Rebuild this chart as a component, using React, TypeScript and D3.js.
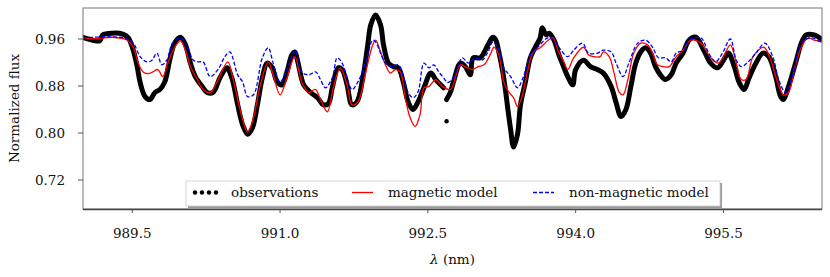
import React, { useEffect, useRef } from 'react';
import * as d3 from 'd3';

const width = 830;
const height = 277;
const margin = { top: 8, right: 8, bottom: 68, left: 83 };
const fontFamily = "'DejaVu Serif', serif";
const fontSize = 13.5;

const obsWave = [
  989.00, 989.10, 989.17, 989.20, 989.30, 989.41, 989.46, 989.51, 989.55, 989.58,
  989.63, 989.68, 989.73, 989.78, 989.83, 989.88, 989.93, 989.99, 990.04, 990.09,
  990.14, 990.21, 990.26, 990.32, 990.39, 990.46, 990.51, 990.57, 990.62, 990.67,
  990.72, 990.77, 990.82, 990.87, 990.92, 990.97, 991.02, 991.07, 991.12, 991.15,
  991.18, 991.24, 991.31, 991.38, 991.44, 991.49, 991.53, 991.59, 991.63, 991.68,
  991.73, 991.78, 991.84, 991.89, 991.92, 991.97, 992.02, 992.05, 992.10, 992.15,
  992.20, 992.25, 992.30, 992.35, 992.40, 992.46, 992.53, 992.58, 992.63, 992.66,
  992.69, 992.73, 992.76, 992.83, 992.88, 992.93, 992.96, 993.03, 993.11, 993.16,
  993.19, 993.22, 993.26, 993.29, 993.31, 993.34, 993.37, 993.41, 993.44, 993.49,
  993.54, 993.59, 993.64, 993.66, 993.70, 993.73, 993.78, 993.83, 993.87, 993.92,
  993.97, 994.00, 994.08, 994.15, 994.22, 994.28, 994.36, 994.41, 994.46, 994.51,
  994.56, 994.61, 994.66, 994.71, 994.76, 994.81, 994.86, 994.91, 994.97, 995.02,
  995.09, 995.15, 995.22, 995.30, 995.37, 995.44, 995.50, 995.55, 995.61, 995.66,
  995.71, 995.76, 995.83, 995.90, 995.96, 996.03, 996.08, 996.11, 996.16, 996.24,
  996.29, 996.34, 996.42, 996.51,
];
const obsFlux = [
  0.963, 0.958, 0.957, 0.967, 0.970, 0.968, 0.962, 0.941, 0.913, 0.886,
  0.862, 0.857, 0.869, 0.874, 0.887, 0.924, 0.953, 0.963, 0.950, 0.919,
  0.896, 0.879, 0.869, 0.869, 0.894, 0.911, 0.894, 0.848, 0.814, 0.798,
  0.809, 0.848, 0.894, 0.919, 0.911, 0.887, 0.882, 0.904, 0.933, 0.938,
  0.921, 0.882, 0.869, 0.860, 0.848, 0.850, 0.877, 0.911, 0.908, 0.882,
  0.848, 0.853, 0.894, 0.950, 0.984, 1.001, 0.984, 0.950, 0.919, 0.913,
  0.911, 0.887, 0.853, 0.840, 0.853, 0.877, 0.902, 0.891, 0.882, 0.877,
  0.857, 0.870, 0.887, 0.919, 0.913, 0.899, 0.928, 0.928, 0.950, 0.963,
  0.958, 0.938, 0.904, 0.870, 0.843, 0.806, 0.776, 0.798, 0.848, 0.887,
  0.928, 0.946, 0.962, 0.979, 0.967, 0.970, 0.958, 0.933, 0.916, 0.896,
  0.882, 0.908, 0.924, 0.913, 0.908, 0.902, 0.879, 0.852, 0.828, 0.840,
  0.879, 0.919, 0.938, 0.945, 0.936, 0.913, 0.899, 0.891, 0.899, 0.919,
  0.936, 0.958, 0.963, 0.941, 0.919, 0.911, 0.924, 0.936, 0.913, 0.886,
  0.874, 0.894, 0.919, 0.936, 0.930, 0.896, 0.862, 0.857, 0.879, 0.924,
  0.953, 0.967, 0.967, 0.958,
];
const obsGapAt = 992.675;
const strayWave = [992.69];
const strayFlux = [0.820];

// magnetic model (red)
const magWave = [
  989.00, 989.10, 989.30, 989.45, 989.51, 989.56, 989.61, 989.66, 989.71, 989.76,
  989.81, 989.86, 989.93, 989.99, 990.04, 990.09, 990.16, 990.22, 990.29, 990.36,
  990.47, 990.52, 990.60, 990.67, 990.73, 990.80, 990.88, 990.93, 991.00, 991.07,
  991.15, 991.22, 991.29, 991.36, 991.41, 991.48, 991.54, 991.61, 991.68, 991.73,
  991.79, 991.87, 991.94, 991.97, 992.02, 992.07, 992.12, 992.17, 992.22, 992.27,
  992.32, 992.37, 992.42, 992.46, 992.51, 992.58, 992.65, 992.73, 992.83, 992.90,
  992.95, 993.01, 993.07, 993.14, 993.17, 993.22, 993.27, 993.32, 993.37, 993.41,
  993.46, 993.51, 993.57, 993.64, 993.72, 993.77, 993.82, 993.88, 993.92, 993.98,
  994.08, 994.13, 994.18, 994.25, 994.28, 994.34, 994.39, 994.44, 994.48, 994.53,
  994.59, 994.66, 994.73, 994.78, 994.83, 994.89, 994.95, 995.02, 995.09, 995.17,
  995.27, 995.37, 995.45, 995.50, 995.57, 995.63, 995.68, 995.73, 995.80, 995.91,
  995.98, 996.05, 996.11, 996.16, 996.22, 996.29, 996.36, 996.42, 996.51,
];
const magFlux = [
  0.962, 0.960, 0.963, 0.958, 0.946, 0.919, 0.904, 0.901, 0.904, 0.908,
  0.896, 0.919, 0.946, 0.957, 0.941, 0.913, 0.891, 0.874, 0.869, 0.887,
  0.921, 0.894, 0.836, 0.801, 0.826, 0.882, 0.921, 0.899, 0.865, 0.894,
  0.930, 0.887, 0.869, 0.874, 0.857, 0.836, 0.877, 0.911, 0.882, 0.848,
  0.853, 0.904, 0.950, 0.958, 0.938, 0.916, 0.902, 0.908, 0.904, 0.860,
  0.826, 0.811, 0.831, 0.877, 0.879, 0.891, 0.879, 0.874, 0.916, 0.911,
  0.908, 0.913, 0.916, 0.936, 0.946, 0.933, 0.887, 0.870, 0.860, 0.845,
  0.865, 0.904, 0.938, 0.945, 0.958, 0.962, 0.941, 0.921, 0.908, 0.928,
  0.946, 0.933, 0.930, 0.930, 0.938, 0.930, 0.902, 0.870, 0.865, 0.891,
  0.936, 0.953, 0.950, 0.936, 0.916, 0.913, 0.913, 0.930, 0.941, 0.958,
  0.953, 0.928, 0.919, 0.930, 0.950, 0.919, 0.891, 0.891, 0.930, 0.946,
  0.924, 0.886, 0.865, 0.869, 0.908, 0.946, 0.962, 0.958, 0.955,
];

// non-magnetic model (blue, dashed)
const nonMagWave = [
  989.00, 989.41, 989.51, 989.58, 989.65, 989.70, 989.75, 989.80, 989.85, 989.91,
  989.99, 990.06, 990.12, 990.17, 990.22, 990.29, 990.37, 990.44, 990.49, 990.57,
  990.62, 990.67, 990.73, 990.82, 990.88, 990.93, 991.00, 991.07, 991.15, 991.22,
  991.29, 991.36, 991.41, 991.46, 991.53, 991.58, 991.63, 991.68, 991.73, 991.79,
  991.87, 991.94, 991.97, 992.02, 992.07, 992.14, 992.20, 992.25, 992.30, 992.35,
  992.40, 992.46, 992.51, 992.56, 992.61, 992.66, 992.70, 992.76, 992.85, 992.91,
  992.98, 993.05, 993.11, 993.16, 993.21, 993.27, 993.34, 993.41, 993.47, 993.54,
  993.61, 993.72, 993.78, 993.85, 993.92, 993.98, 994.07, 994.13, 994.22, 994.28,
  994.36, 994.41, 994.48, 994.54, 994.63, 994.71, 994.78, 994.84, 994.91, 994.97,
  995.02, 995.10, 995.15, 995.27, 995.35, 995.42, 995.49, 995.57, 995.63, 995.68,
  995.75, 995.83, 995.92, 996.00, 996.06, 996.13, 996.21, 996.29, 996.39, 996.51,
];
const nonMagFlux = [
  0.962, 0.962, 0.953, 0.930, 0.921, 0.924, 0.936, 0.916, 0.924, 0.953,
  0.962, 0.946, 0.924, 0.921, 0.921, 0.896, 0.908, 0.930, 0.938, 0.899,
  0.887, 0.862, 0.865, 0.928, 0.945, 0.919, 0.887, 0.908, 0.941, 0.904,
  0.899, 0.904, 0.891, 0.877, 0.894, 0.928, 0.919, 0.894, 0.874, 0.887,
  0.921, 0.958, 0.955, 0.936, 0.919, 0.913, 0.916, 0.896, 0.869, 0.860,
  0.870, 0.919, 0.911, 0.916, 0.904, 0.894, 0.886, 0.894, 0.928, 0.919,
  0.928, 0.924, 0.938, 0.955, 0.945, 0.911, 0.896, 0.877, 0.896, 0.933,
  0.945, 0.962, 0.958, 0.941, 0.930, 0.941, 0.953, 0.936, 0.936, 0.941,
  0.938, 0.919, 0.896, 0.919, 0.953, 0.958, 0.946, 0.928, 0.928, 0.921,
  0.936, 0.941, 0.958, 0.962, 0.936, 0.921, 0.936, 0.960, 0.924, 0.913,
  0.921, 0.936, 0.953, 0.930, 0.891, 0.869, 0.902, 0.953, 0.962, 0.953,
];

const xTicks = [989.5, 991.0, 992.5, 994.0, 995.5];
const yTicks = [0.72, 0.80, 0.88, 0.96];
const legendLabels = ['observations', 'magnetic model', 'non-magnetic model'];

function toPoints(wave: number[], flux: number[]) {
  return wave.map((w, i) => [w, flux[i]] as [number, number]);
}

function Chart() {
  const ref = useRef<SVGSVGElement>(null);

  useEffect(() => {
    const svg = d3.select(ref.current);
    svg.selectAll('*').remove();

    const innerW = width - margin.left - margin.right;
    const innerH = height - margin.top - margin.bottom;

    const x = d3.scaleLinear().domain([989.0, 996.5]).range([0, innerW]);
    const y = d3.scaleLinear().domain([0.6706, 1.0128]).range([innerH, 0]);

    svg.append('defs').append('clipPath').attr('id', 'plotClip')
      .append('rect').attr('width', innerW).attr('height', innerH);

    const g = svg.append('g')
      .attr('transform', `translate(${margin.left},${margin.top})`);

    const line = d3.line<[number, number]>()
      .x((d) => x(d[0]))
      .y((d) => y(d[1]))
      .curve(d3.curveCatmullRom.alpha(0.5));

    const plot = g.append('g').attr('clip-path', 'url(#plotClip)');

    // observations: dense dot markers -> thick black band
    const obs = toPoints(obsWave, obsFlux);
    const obsSegments = [
      obs.filter((d) => d[0] < obsGapAt),
      obs.filter((d) => d[0] > obsGapAt),
    ];
    plot.selectAll('path.obs')
      .data(obsSegments)
      .enter().append('path')
      .attr('class', 'obs')
      .attr('d', (d) => line(d))
      .attr('fill', 'none')
      .attr('stroke', 'black')
      .attr('stroke-width', 5)
      .attr('stroke-linejoin', 'round')
      .attr('stroke-linecap', 'round');

    plot.selectAll('circle.stray')
      .data(toPoints(strayWave, strayFlux))
      .enter().append('circle')
      .attr('class', 'stray')
      .attr('cx', (d) => x(d[0]))
      .attr('cy', (d) => y(d[1]))
      .attr('r', 2.2)
      .attr('fill', 'black');

    plot.append('path')
      .datum(toPoints(magWave, magFlux))
      .attr('d', line)
      .attr('fill', 'none')
      .attr('stroke', '#ff0000')
      .attr('stroke-width', 1.3);

    plot.append('path')
      .datum(toPoints(nonMagWave, nonMagFlux))
      .attr('d', line)
      .attr('fill', 'none')
      .attr('stroke', '#0000ff')
      .attr('stroke-width', 1.3)
      .attr('stroke-dasharray', '4,2');

    // frame
    g.append('rect')
      .attr('width', innerW)
      .attr('height', innerH)
      .attr('fill', 'none')
      .attr('stroke', '#777')
      .attr('stroke-width', 1);
    g.append('line')
      .attr('x1', 0).attr('x2', innerW)
      .attr('y1', innerH + 0.5).attr('y2', innerH + 0.5)
      .attr('stroke', '#444').attr('stroke-width', 1.6);

    // y ticks
    const yAxis = g.append('g');
    yTicks.forEach((t) => {
      yAxis.append('line')
        .attr('x1', -5).attr('x2', 0)
        .attr('y1', y(t)).attr('y2', y(t))
        .attr('stroke', '#555');
      yAxis.append('text')
        .attr('x', -18)
        .attr('y', y(t))
        .attr('dy', '0.36em')
        .attr('text-anchor', 'end')
        .style('font-family', fontFamily)
        .style('font-size', fontSize + 'px')
        .attr('fill', '#111')
        .text(t.toFixed(2));
    });

    // x ticks
    const xAxis = g.append('g').attr('transform', `translate(0,${innerH})`);
    xTicks.forEach((t) => {
      xAxis.append('line')
        .attr('x1', x(t)).attr('x2', x(t))
        .attr('y1', 0).attr('y2', 4)
        .attr('stroke', '#555');
      xAxis.append('text')
        .attr('x', x(t))
        .attr('y', 29)
        .attr('text-anchor', 'middle')
        .style('font-family', fontFamily)
        .style('font-size', fontSize + 'px')
        .attr('fill', '#111')
        .text(t.toFixed(1));
    });

    // axis labels
    svg.append('text')
      .attr('transform', `translate(19,${margin.top + innerH / 2}) rotate(-90)`)
      .attr('text-anchor', 'middle')
      .style('font-family', fontFamily)
      .style('font-size', fontSize + 'px')
      .attr('fill', '#111')
      .text('Normalized flux');

    const xl = svg.append('text')
      .attr('x', margin.left + innerW / 2)
      .attr('y', 264)
      .attr('text-anchor', 'middle')
      .style('font-family', fontFamily)
      .style('font-size', fontSize + 'px')
      .attr('fill', '#111');
    xl.append('tspan').style('font-style', 'italic').text('λ');
    xl.append('tspan').text(' (nm)');

    // legend
    const lg = svg.append('g').attr('transform', 'translate(186,181)');
    const lw = 534;
    const lh = 25;
    lg.append('rect')
      .attr('x', 2).attr('y', 2)
      .attr('width', lw).attr('height', lh)
      .attr('fill', '#999');
    lg.append('rect')
      .attr('width', lw).attr('height', lh)
      .attr('fill', 'white')
      .attr('stroke', '#ccc')
      .attr('stroke-width', 0.8);

    const handleX = [7, 166, 347];
    const textX = [45, 202, 383];
    const cy = 11.5;
    d3.range(4).forEach((i) => {
      lg.append('circle')
        .attr('cx', handleX[0] + 2 + i * 7)
        .attr('cy', cy)
        .attr('r', 2.2)
        .attr('fill', 'black');
    });
    lg.append('line')
      .attr('x1', handleX[1]).attr('x2', handleX[1] + 21)
      .attr('y1', cy).attr('y2', cy)
      .attr('stroke', '#ff0000').attr('stroke-width', 1.3);
    lg.append('line')
      .attr('x1', handleX[2]).attr('x2', handleX[2] + 21)
      .attr('y1', cy).attr('y2', cy)
      .attr('stroke', '#0000ff').attr('stroke-width', 1.3)
      .attr('stroke-dasharray', '4,2');

    lg.selectAll('text.lab')
      .data(legendLabels)
      .enter().append('text')
      .attr('class', 'lab')
      .attr('x', (_, i) => textX[i])
      .attr('y', cy)
      .attr('dy', '0.36em')
      .style('font-family', fontFamily)
      .style('font-size', fontSize + 'px')
      .attr('fill', '#111')
      .text((d) => d);
  }, []);

  return (
    <svg
      ref={ref}
      width={width}
      height={height}
      style={{ position: 'absolute', left: 0, top: 0, background: 'white' }}
    />
  );
}

export default function App() {
  return <Chart />;
}
